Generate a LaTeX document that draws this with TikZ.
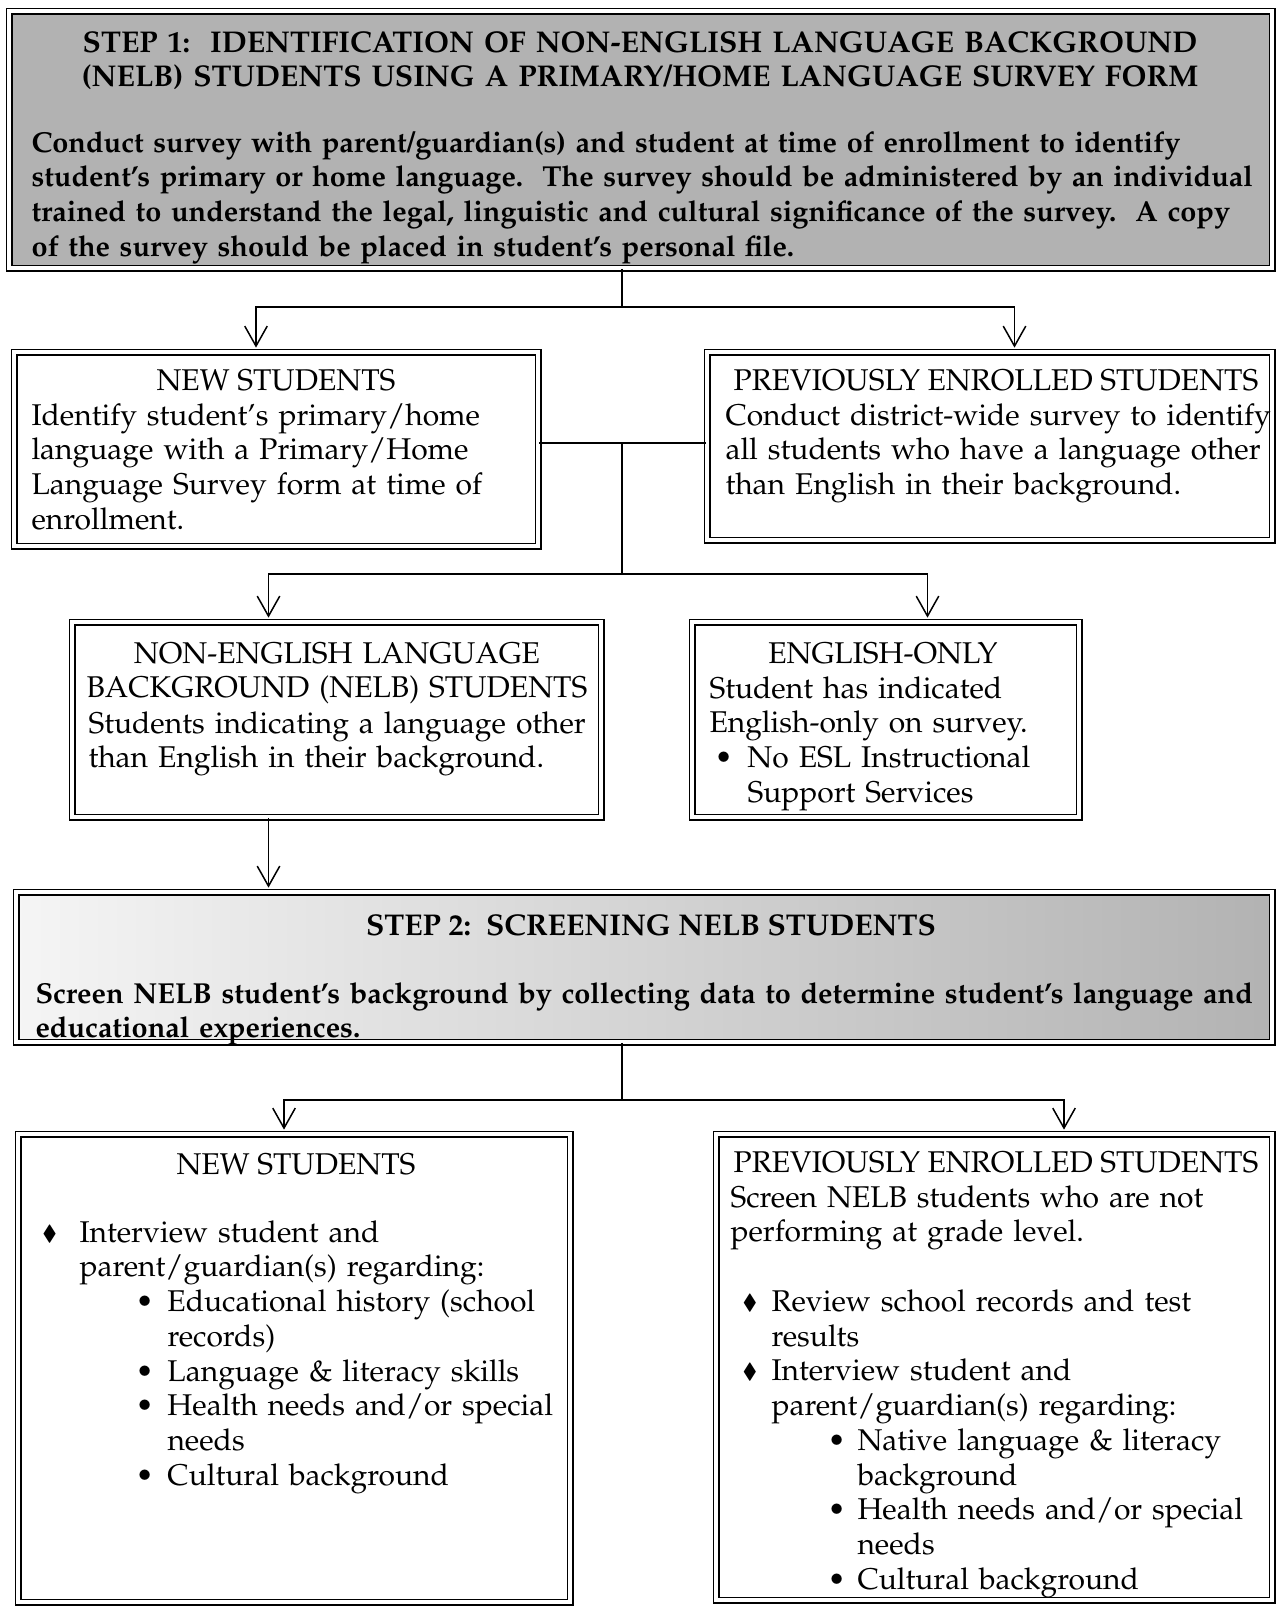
\documentclass[tikz,border=0pt]{standalone}
\usepackage[T1]{fontenc}
\usepackage{mathpazo}
\usepackage{amssymb}
\usetikzlibrary{arrows.meta, fit, calc}

\newcommand{\dmd}{\raisebox{0.8pt}{\scalebox{0.7}{$\blacklozenge$}}}
\newcommand{\listlead}[3]{\hspace*{#1}\makebox[#2][l]{#3}}

\tikzset{
  dblbox/.style={draw, double, double distance=1.4pt, line width=0.7pt, inner sep=0pt},
  stepbox/.style={dblbox, fill=black!30},
  ttl/.style={anchor=base, inner sep=0pt, font=\fontsize{12}{13.9}\selectfont},
  ttlc/.style={anchor=base, inner sep=0pt, align=center, text width=#1, font=\fontsize{12}{13.9}\selectfont},
  body/.style={anchor=base west, inner sep=0pt, align=left, text width=#1, font=\fontsize{12}{13.9}\selectfont},
  boldbody/.style={body=#1, font=\bfseries\fontsize{11.55}{13.9}\selectfont},
  link/.style={line width=0.6pt},
  arr/.style={link, -{Straight Barb[length=8pt,width=9pt]}, shorten >=1.4pt}
}

\begin{document}
\begin{tikzpicture}[x=0.4pt,y=-0.4pt]
  \useasboundingbox (0,0) rectangle (1276,1607);

  % Buoc 1
  \node[stepbox, fit={(9,11) (1272,268)}] (step1) {};
  \node[ttlc=505pt, font=\bfseries\fontsize{12}{13.9}\selectfont] (step1-head) at (640,52)
    {STEP 1:\ \ IDENTIFICATION OF NON-ENGLISH LANGUAGE BACKGROUND\\(NELB) STUDENTS USING A PRIMARY/HOME LANGUAGE SURVEY FORM};
  \node[boldbody=530pt] (step1-text) at (31,152)
    {Conduct survey with parent/guardian(s) and student at time of enrollment to identify\\
     student's primary or home language.\ \ The survey should be administered by an individual\\
     trained to understand the legal, linguistic and cultural significance of the survey.\ \ A copy\\
     of the survey should be placed in student's personal file.};

  % Hai hop hoc sinh
  \node[dblbox, fit={(14,352) (538,546)}] (new1) {};
  \node[ttl] (new1-head) at (276,390) {NEW STUDENTS};
  \node[body=205pt] (new1-text) at (31,425)
    {Identify student's primary/home\\language with a Primary/Home\\Language Survey form at time of\\enrollment.};

  \node[dblbox, fit={(707,352) (1272,540)}] (prev1) {};
  \node[ttl] (prev1-head) at (996,390) {PREVIOUSLY ENROLLED STUDENTS};
  \node[body=225pt] (prev1-text) at (725,425)
    {Conduct district-wide survey to identify\\all students who have a language other\\than English in their background.};

  % NELB va English-only
  \node[dblbox, fit={(72,622) (601,817)}] (nelb) {};
  \node[ttlc=210pt] (nelb-head) at (337,663) {NON-ENGLISH LANGUAGE\\BACKGROUND (NELB) STUDENTS};
  \node[body=210pt] (nelb-text) at (88,733)
    {Students indicating a language other\\than English in their background.};

  \node[dblbox, fit={(692,622) (1079,817)}] (eng) {};
  \node[ttl] (eng-head) at (883,663) {ENGLISH-ONLY};
  \node[body=150pt] (eng-text) at (709,698)
    {Student has indicated\\English-only on survey.\\
     \listlead{2pt}{13.2pt}{\textbullet}No ESL Instructional\\
     \hspace*{15.2pt}Support Services};

  % Buoc 2
  \node[dblbox, left color=black!4, right color=black!30, fit={(16,892) (1272,1042)}] (step2) {};
  \node[ttl, font=\bfseries\fontsize{12}{13.9}\selectfont] (step2-head) at (651,935) {STEP 2:\ \ SCREENING NELB STUDENTS};
  \node[boldbody=530pt] (step2-text) at (35,1003)
    {Screen NELB student's background by collecting data to determine student's language and\\
     educational experiences.};

  % Hai hop cuoi
  \node[dblbox, fit={(18,1134) (570,1602)}] (new2) {};
  \node[ttl] (new2-head) at (296,1174) {NEW STUDENTS};
  \node[body=215pt] (new2-text) at (42,1242)
    {\listlead{0pt}{14.8pt}{\dmd}Interview student and\\
     \hspace*{14.8pt}parent/guardian(s) regarding:\\
     \listlead{37.2pt}{12.8pt}{\textbullet}Educational history (school\\
     \hspace*{50pt}records)\\
     \listlead{37.2pt}{12.8pt}{\textbullet}Language \& literacy skills\\
     \listlead{37.2pt}{12.8pt}{\textbullet}Health needs and/or special\\
     \hspace*{50pt}needs\\
     \listlead{37.2pt}{12.8pt}{\textbullet}Cultural background};

  \node[dblbox, fit={(716,1134) (1272,1600)}] (prev2) {};
  \node[ttl] (prev2-head) at (996,1172) {PREVIOUSLY ENROLLED STUDENTS};
  \node[body=220pt] (prev2-text) at (730,1207)
    {Screen NELB students who are not\\
     performing at grade level.\\[13.9pt]
     \listlead{4.8pt}{11.6pt}{\dmd}Review school records and test\\
     \hspace*{16.4pt}results\\
     \listlead{4.8pt}{11.6pt}{\dmd}Interview student and\\
     \hspace*{16.4pt}parent/guardian(s) regarding:\\
     \listlead{38.8pt}{12pt}{\textbullet}Native language \& literacy\\
     \hspace*{50.8pt}background\\
     \listlead{38.8pt}{12pt}{\textbullet}Health needs and/or special\\
     \hspace*{50.8pt}needs\\
     \listlead{38.8pt}{12pt}{\textbullet}Cultural background};

  % Cac duong noi
  \coordinate (fork1) at (622,307);
  \draw[link] (step1.south -| fork1) -- (fork1);
  \draw[arr] (fork1) -| ([shift={(-20,0)}]new1.north);
  \draw[arr] (fork1) -| ([shift={(25,0)}]prev1.north);

  \coordinate (mid1) at (622,443);
  \coordinate (fork2) at (622,574);
  \draw[link] (new1.east |- mid1) -- (prev1.west |- mid1);
  \draw[link] (mid1) -- (fork2);
  \draw[arr] (fork2) -| ([shift={(-68,0)}]nelb.north);
  \draw[arr] (fork2) -| ([shift={(42,0)}]eng.north);

  \coordinate (nelb-out) at ([shift={(-68,0)}]nelb.south);
  \draw[arr] (nelb-out) -- (step2.north -| nelb-out);

  \coordinate (fork3) at (622,1100);
  \draw[link] (step2.south -| fork3) -- (fork3);
  \draw[arr] (fork3) -| ([shift={(-10,0)}]new2.north);
  \draw[arr] (fork3) -| ([shift={(70,0)}]prev2.north);
\end{tikzpicture}
\end{document}
